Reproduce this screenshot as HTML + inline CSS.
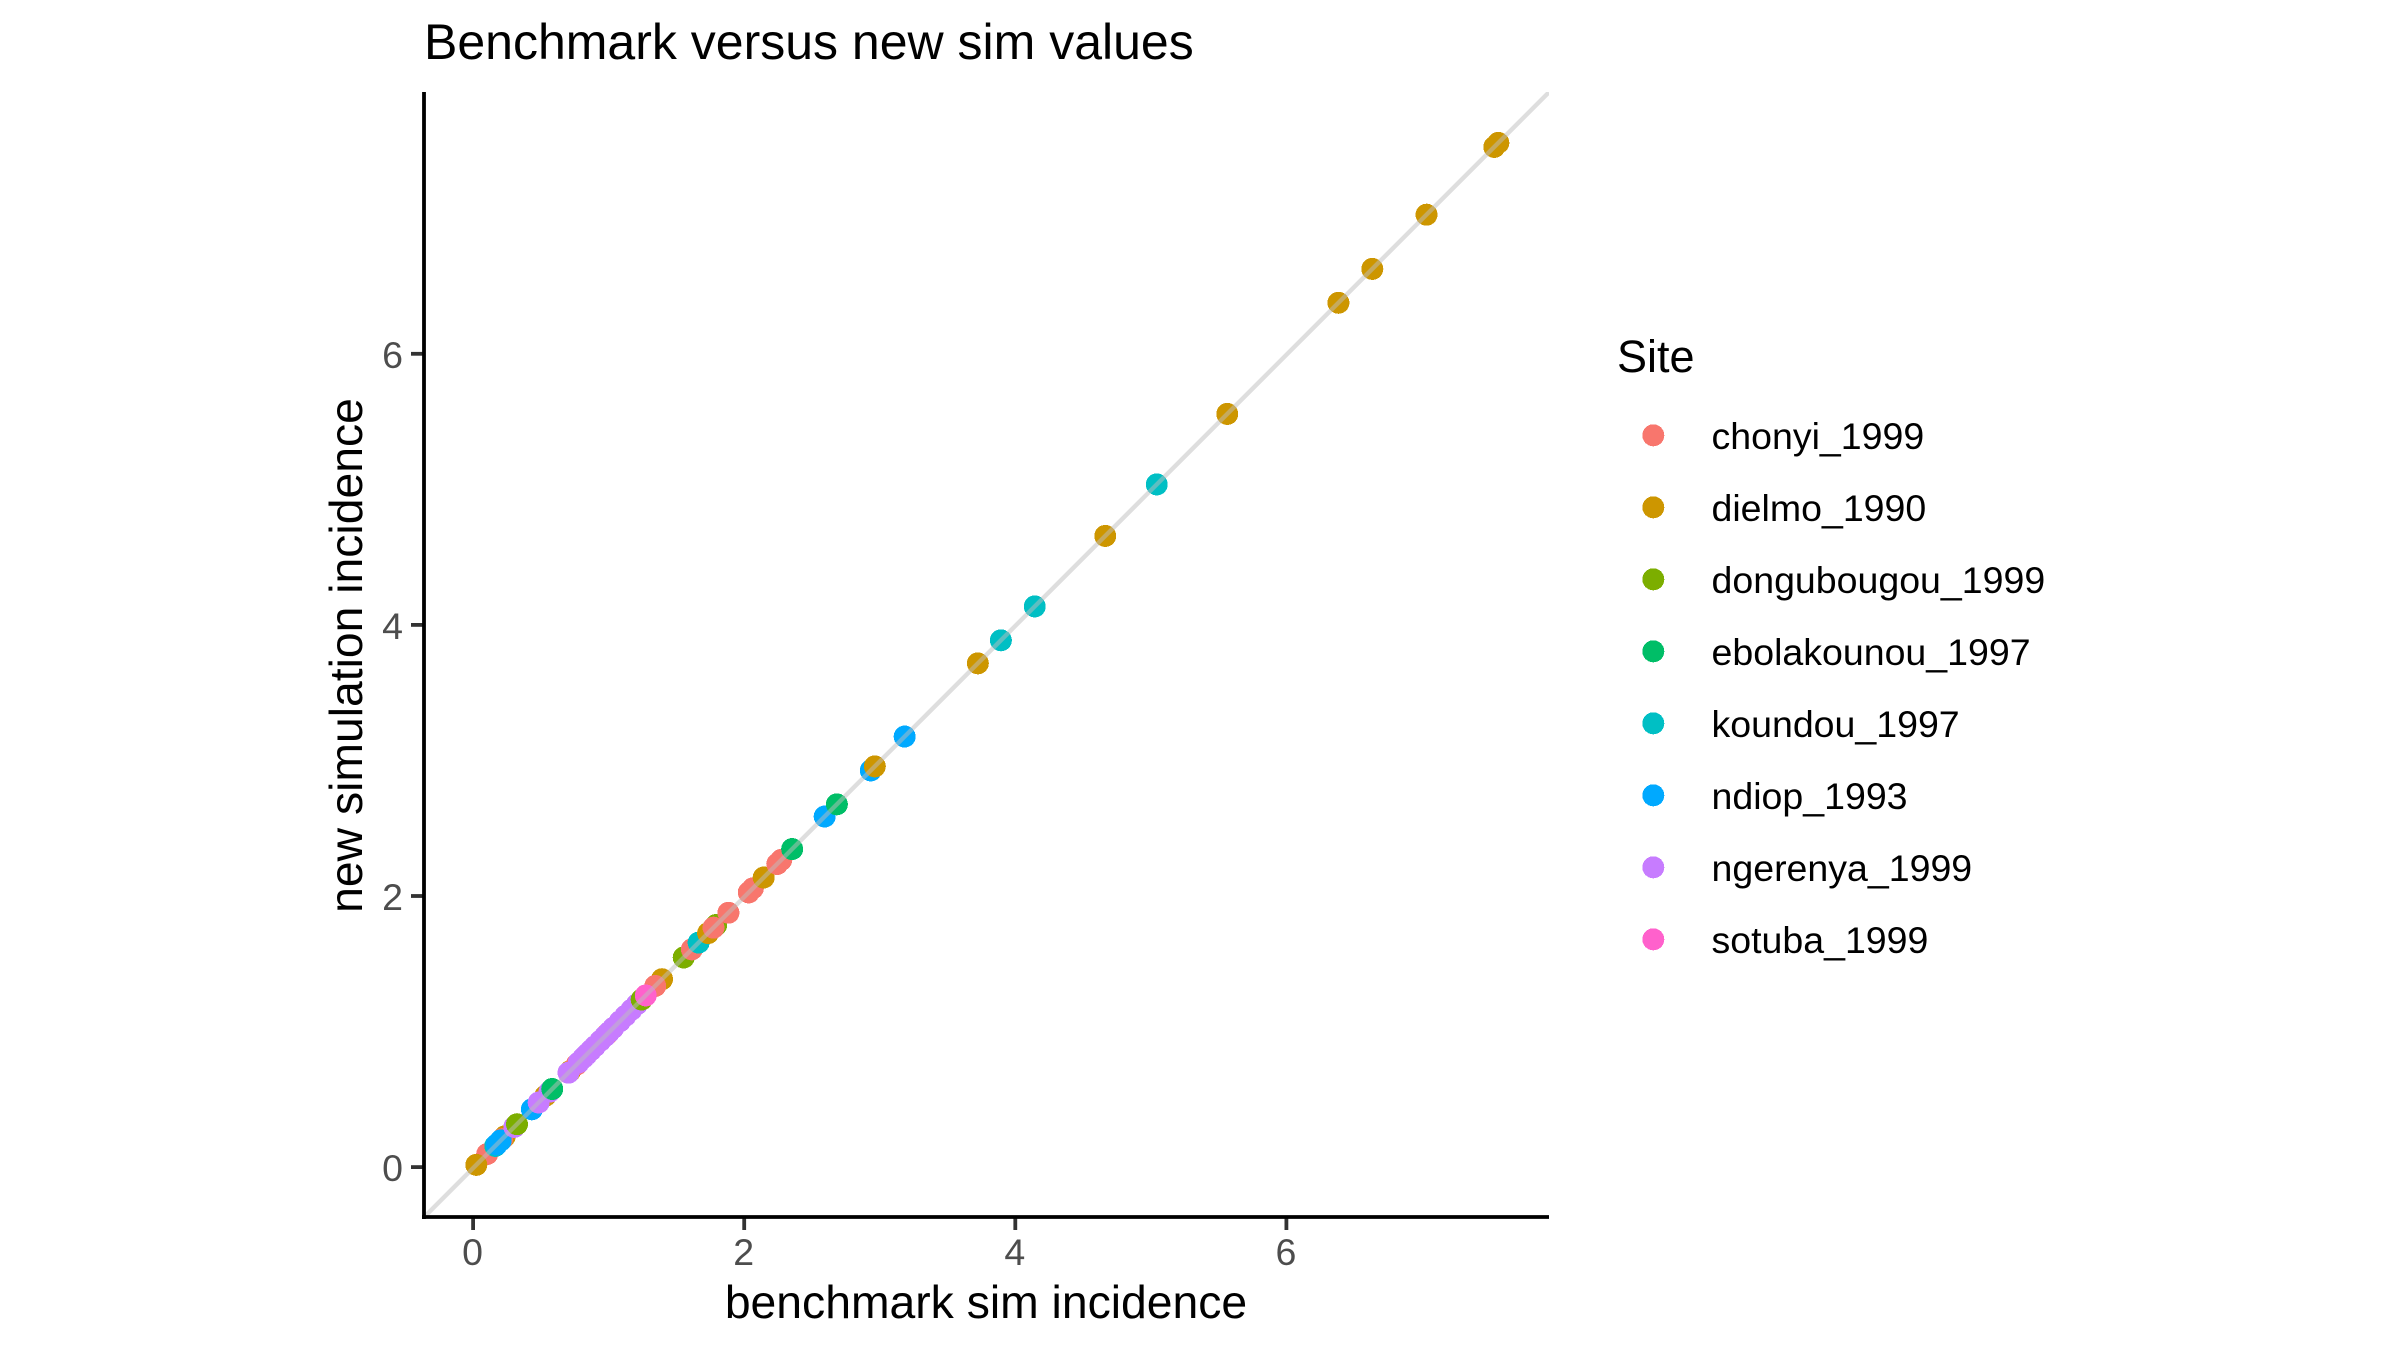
<!DOCTYPE html>
<html lang="en">
<head>
<meta charset="utf-8">
<title>Benchmark versus new sim values</title>
<style>
html,body{margin:0;padding:0;background:#fff;}
svg{display:block;font-family:"Liberation Sans",Arial,sans-serif;}
</style>
</head>
<body>
<svg id="chart" xmlns="http://www.w3.org/2000/svg" width="2400" height="1350" viewBox="0 0 2400 1350">
  <rect x="0" y="0" width="2400" height="1350" fill="#ffffff"/>
  <text x="424" y="59" font-size="50" fill="#000000">Benchmark versus new sim values</text>
  <defs><clipPath id="panel-clip"><rect x="424" y="92" width="1125" height="1125"/></clipPath></defs>
  <g id="points"></g>
  <line id="identity" clip-path="url(#panel-clip)" stroke="#bebebe" stroke-opacity="0.5" stroke-width="4.4"/>
  <g id="ticks"></g>
  <line x1="424" y1="92" x2="424" y2="1219" stroke="#000000" stroke-width="3.8"/>
  <line x1="422" y1="1217" x2="1549" y2="1217" stroke="#000000" stroke-width="3.8"/>
  <text x="986" y="1318" font-size="46.3" text-anchor="middle" fill="#000000">benchmark sim incidence</text>
  <text transform="translate(362 655.5) rotate(-90)" font-size="46.3" text-anchor="middle" fill="#000000">new simulation incidence</text>
  <text x="1617" y="372" font-size="45" fill="#000000">Site</text>
  <g id="legend"></g>
</svg>
<script>
const sites = ["chonyi_1999","dielmo_1990","dongubougou_1999","ebolakounou_1997","koundou_1997","ndiop_1993","ngerenya_1999","sotuba_1999"];
const siteColors = ["#F8766D","#CD9600","#7CAE00","#00BE67","#00BFC4","#00A9FF","#C77CFF","#FF61CC"];
const xTickValues = [0,2,4,6];
const yTickValues = [0,2,4,6];

/* one entry per point, in drawing order */
const pointSite = [
  0,1,
  1,0,4,5,5,
  6,2,
  5,1,6,6,3,
  1,0,0,
  6,6,6,6,6,6,6,6,6,6,6,6,6,6,
  2,1,0,7,
  5,2,0,4,
  1,2,0,0,
  0,0,1,0,0,3,
  5,3,5,1,5,
  1,4,4,
  1,4,1,1,1,1,1,1
];
const benchmarkIncidence = [
  0.10,0.02,
  0.23,0.21,0.16,0.17,0.20,
  0.30,0.32,
  0.43,0.53,0.56,0.48,0.58,
  0.71,0.76,0.98,
  0.70,0.775,0.81,0.835,0.865,0.895,0.935,0.97,1.00,1.03,1.08,1.12,1.165,1.205,
  1.24,1.39,1.34,1.27,
  1.55,1.55,1.61,1.66,
  1.73,1.79,1.77,1.88,
  2.03,2.06,2.14,2.24,2.27,2.35,
  2.59,2.68,2.93,2.96,3.18,
  3.72,3.89,4.14,
  4.66,5.04,5.56,6.38,6.63,7.03,7.53,7.56
];
const newSimIncidence = [
  0.10,0.02,
  0.23,0.21,0.16,0.17,0.20,
  0.30,0.32,
  0.43,0.53,0.56,0.48,0.58,
  0.71,0.76,0.98,
  0.70,0.775,0.81,0.835,0.865,0.895,0.935,0.97,1.00,1.03,1.08,1.12,1.165,1.205,
  1.24,1.39,1.34,1.27,
  1.55,1.55,1.61,1.66,
  1.73,1.79,1.77,1.88,
  2.03,2.06,2.14,2.24,2.27,2.35,
  2.59,2.68,2.93,2.96,3.18,
  3.72,3.89,4.14,
  4.66,5.04,5.56,6.38,6.63,7.03,7.53,7.56
];

const SVGNS = "http://www.w3.org/2000/svg";
const PANEL = {left:424, right:1549, top:92, bottom:1217};
const UNIT = 135.55;
function xScale(v){ return 473.6 + v * UNIT; }
function yScale(v){ return 1167.6 - v * UNIT; }
function xInvert(px){ return (px - 473.6) / UNIT; }
function yInvert(px){ return (1167.6 - px) / UNIT; }

const pointsLayer = document.getElementById("points");
pointSite.forEach(function(siteIndex, i){
  const c = document.createElementNS(SVGNS, "circle");
  c.setAttribute("cx", xScale(benchmarkIncidence[i]));
  c.setAttribute("cy", yScale(newSimIncidence[i]));
  c.setAttribute("r", 11);
  c.setAttribute("shape-rendering", "crispEdges");
  c.setAttribute("fill", siteColors[siteIndex]);
  
  
  pointsLayer.appendChild(c);
});

const identity = document.getElementById("identity");
const lineLow = Math.max(xInvert(PANEL.left), yInvert(PANEL.bottom));
const lineHigh = Math.min(xInvert(PANEL.right), yInvert(PANEL.top));
identity.setAttribute("x1", xScale(lineLow));
identity.setAttribute("y1", yScale(lineLow));
identity.setAttribute("x2", xScale(lineHigh));
identity.setAttribute("y2", yScale(lineHigh));

const ticks = document.getElementById("ticks");
xTickValues.forEach(function(v){
  const t = document.createElementNS(SVGNS, "line");
  t.setAttribute("x1", xScale(v) - 0.5);
  t.setAttribute("x2", xScale(v) - 0.5);
  t.setAttribute("y1", PANEL.bottom);
  t.setAttribute("y2", PANEL.bottom + 13);
  t.setAttribute("stroke", "#333333");
  t.setAttribute("stroke-width", 3.8);
  
  
  ticks.appendChild(t);
  const l = document.createElementNS(SVGNS, "text");
  l.setAttribute("x", xScale(v) - 1);
  l.setAttribute("y", 1265);
  l.setAttribute("font-size", 37.5);
  l.setAttribute("text-anchor", "middle");
  l.setAttribute("fill", "#4D4D4D");
  l.textContent = v;
  
  
  ticks.appendChild(l);
});
yTickValues.forEach(function(v){
  const t = document.createElementNS(SVGNS, "line");
  t.setAttribute("x1", PANEL.left - 13);
  t.setAttribute("x2", PANEL.left);
  t.setAttribute("y1", yScale(v) - 0.5);
  t.setAttribute("y2", yScale(v) - 0.5);
  t.setAttribute("stroke", "#333333");
  t.setAttribute("stroke-width", 3.8);
  
  
  ticks.appendChild(t);
  const l = document.createElementNS(SVGNS, "text");
  l.setAttribute("x", 403);
  l.setAttribute("y", yScale(v) + 13.5);
  l.setAttribute("font-size", 37.5);
  l.setAttribute("text-anchor", "end");
  l.setAttribute("fill", "#4D4D4D");
  l.textContent = v;
  
  
  ticks.appendChild(l);
});

const legend = document.getElementById("legend");
sites.forEach(function(name, i){
  const cy = 435.3 + i * 72;
  const d = document.createElementNS(SVGNS, "circle");
  d.setAttribute("cx", 1653.3);
  d.setAttribute("cy", cy);
  d.setAttribute("r", 11);
  d.setAttribute("shape-rendering", "crispEdges");
  d.setAttribute("fill", siteColors[i]);
  
  
  legend.appendChild(d);
  const l = document.createElementNS(SVGNS, "text");
  l.setAttribute("x", 1711.5);
  l.setAttribute("y", cy + 13.7);
  l.setAttribute("font-size", 37.5);
  l.setAttribute("fill", "#000000");
  l.textContent = name;
  
  
  legend.appendChild(l);
});
</script>
</body>
</html>
